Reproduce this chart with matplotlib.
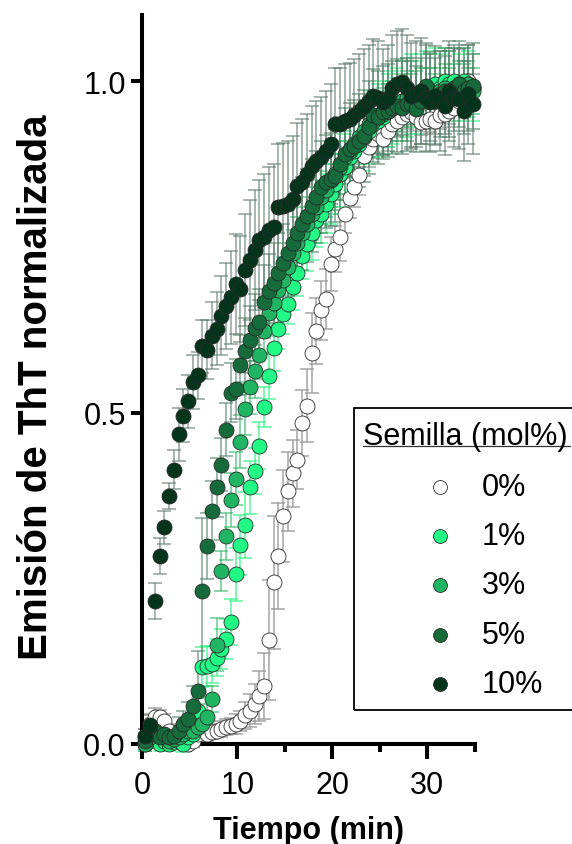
import matplotlib
matplotlib.use("Agg")
import matplotlib.pyplot as plt
from matplotlib.lines import Line2D
from matplotlib.patches import Rectangle
from matplotlib.ticker import FixedLocator

plt.rcParams['font.family'] = ['Liberation Sans', 'DejaVu Sans']

# ---------------- data ----------------
time_min = [0.33, 0.83, 1.33, 1.83, 2.33, 2.83, 3.33, 3.83, 4.33, 4.83,
            5.33, 5.83, 6.33, 6.83, 7.33, 7.83, 8.33, 8.83, 9.33, 9.83,
            10.33, 10.83, 11.33, 11.83, 12.33, 12.83, 13.33, 13.83, 14.33, 14.83,
            15.33, 15.83, 16.33, 16.83, 17.33, 17.83, 18.33, 18.83, 19.33, 19.83,
            20.33, 20.83, 21.33, 21.83, 22.33, 22.83, 23.33, 23.83, 24.33, 24.83,
            25.33, 25.83, 26.33, 26.83, 27.33, 27.83, 28.33, 28.83, 29.33, 29.83,
            30.33, 30.83, 31.33, 31.83, 32.33, 32.83, 33.33, 33.83, 34.33, 34.83]

seed_labels = ['0%', '1%', '3%', '5%', '10%']

tht_0 = [0.01, 0.03, 0.04, 0.04, 0.035, 0.02, 0.01, 0.005, 0.003, 0.0,
         0.005, 0.015, 0.026, 0.015, 0.018, 0.02, 0.023, 0.025, 0.027, 0.03,
         0.035, 0.043, 0.05, 0.06, 0.072, 0.088, 0.157, 0.244, 0.284, 0.344,
         0.381, 0.408, 0.429, 0.484, 0.51, 0.59, 0.623, 0.654, 0.671, 0.724,
         0.747, 0.764, 0.80, 0.824, 0.84, 0.858, 0.887, 0.90, 0.912, 0.92,
         0.913, 0.925, 0.935, 0.94, 0.945, 0.95, 0.953, 0.945, 0.938, 0.94,
         0.943, 0.94, 0.948, 0.95, 0.955, 0.96, 0.97, 0.985, 1.0, 0.99]
tht_1 = [0.0, 0.005, 0.01, 0.0, 0.005, 0.0, 0.003, 0.005, 0.0, 0.01,
         0.015, 0.05, 0.116, 0.118, 0.12, 0.13, 0.143, 0.158, 0.184, 0.256,
         0.30, 0.33, 0.387, 0.412, 0.45, 0.508, 0.555, 0.598, 0.626, 0.649,
         0.664, 0.69, 0.71, 0.736, 0.754, 0.77, 0.79, 0.80, 0.815, 0.83,
         0.845, 0.86, 0.87, 0.885, 0.895, 0.905, 0.915, 0.925, 0.935, 0.94,
         0.945, 0.955, 0.96, 0.965, 0.97, 0.975, 0.98, 0.975, 0.985, 0.99,
         0.985, 0.995, 0.99, 1.0, 0.995, 1.0, 0.99, 1.0, 0.995, 0.99]
tht_3 = [0.0, 0.01, 0.02, 0.015, 0.01, 0.005, 0.008, 0.01, 0.015, 0.02,
         0.02, 0.025, 0.03, 0.04, 0.068, 0.15, 0.261, 0.313, 0.368, 0.40,
         0.456, 0.506, 0.538, 0.562, 0.586, 0.623, 0.65, 0.665, 0.685, 0.70,
         0.72, 0.74, 0.755, 0.77, 0.785, 0.80, 0.81, 0.825, 0.835, 0.85,
         0.86, 0.87, 0.885, 0.895, 0.905, 0.915, 0.925, 0.935, 0.94, 0.945,
         0.95, 0.955, 0.96, 0.965, 0.97, 0.975, 0.97, 0.975, 0.98, 0.98,
         0.985, 0.975, 0.985, 0.99, 0.985, 0.99, 0.995, 0.99, 0.995, 0.985]
tht_5 = [0.005, 0.015, 0.02, 0.01, 0.015, 0.01, 0.012, 0.02, 0.03, 0.038,
         0.058, 0.08, 0.231, 0.299, 0.352, 0.387, 0.421, 0.474, 0.53, 0.535,
         0.572, 0.593, 0.61, 0.628, 0.636, 0.667, 0.684, 0.695, 0.71, 0.725,
         0.74, 0.755, 0.77, 0.785, 0.797, 0.812, 0.825, 0.84, 0.848, 0.852,
         0.857, 0.875, 0.89, 0.897, 0.902, 0.91, 0.917, 0.93, 0.948, 0.945,
         0.953, 0.955, 0.96, 0.963, 0.96, 0.965, 0.965, 0.958, 0.97, 0.993,
         0.975, 0.97, 0.98, 0.985, 0.98, 0.99, 0.995, 0.985, 0.99, 0.993]
tht_10 = [0.012, 0.028, 0.216, 0.283, 0.327, 0.374, 0.414, 0.467, 0.495, 0.517,
          0.546, 0.556, 0.60, 0.595, 0.616, 0.626, 0.646, 0.661, 0.674, 0.694,
          0.686, 0.715, 0.73, 0.745, 0.76, 0.765, 0.775, 0.78, 0.81, 0.812,
          0.815, 0.822, 0.842, 0.848, 0.86, 0.872, 0.88, 0.886, 0.895, 0.905,
          0.935, 0.935, 0.94, 0.942, 0.948, 0.955, 0.963, 0.97, 0.978, 0.975,
          0.968, 0.975, 0.99, 0.995, 0.998, 0.99, 0.978, 0.98, 0.985, 0.975,
          0.968, 0.978, 0.97, 0.963, 0.985, 0.975, 0.973, 0.955, 0.98, 0.965]

sd_0 = [0.012, 0.015, 0.015, 0.012, 0.01, 0.01, 0.008, 0.008, 0.008, 0.008,
        0.01, 0.012, 0.012, 0.01, 0.01, 0.01, 0.012, 0.012, 0.012, 0.015,
        0.015, 0.02, 0.025, 0.03, 0.038, 0.05, 0.09, 0.1, 0.08, 0.07,
        0.06, 0.05, 0.045, 0.05, 0.055, 0.06, 0.05, 0.045, 0.045, 0.04,
        0.035, 0.035, 0.03, 0.03, 0.03, 0.03, 0.03, 0.03, 0.028, 0.028,
        0.025, 0.025, 0.025, 0.022, 0.022, 0.022, 0.02, 0.02, 0.02, 0.02,
        0.02, 0.02, 0.02, 0.02, 0.02, 0.02, 0.02, 0.02, 0.02, 0.02]
sd_1 = [0.01, 0.01, 0.01, 0.01, 0.01, 0.01, 0.01, 0.01, 0.012, 0.012,
        0.015, 0.02, 0.03, 0.03, 0.028, 0.028, 0.03, 0.03, 0.035, 0.04,
        0.045, 0.05, 0.04, 0.035, 0.035, 0.03, 0.035, 0.035, 0.03, 0.03,
        0.03, 0.035, 0.035, 0.035, 0.04, 0.04, 0.04, 0.045, 0.045, 0.045,
        0.045, 0.05, 0.05, 0.05, 0.05, 0.05, 0.05, 0.05, 0.05, 0.055,
        0.055, 0.055, 0.055, 0.055, 0.06, 0.06, 0.06, 0.055, 0.055, 0.055,
        0.055, 0.055, 0.05, 0.05, 0.05, 0.05, 0.05, 0.05, 0.05, 0.05]
sd_3 = [0.01, 0.01, 0.012, 0.012, 0.01, 0.01, 0.01, 0.01, 0.012, 0.012,
        0.015, 0.015, 0.02, 0.02, 0.02, 0.04, 0.03, 0.035, 0.04, 0.04,
        0.04, 0.04, 0.04, 0.04, 0.035, 0.035, 0.035, 0.035, 0.035, 0.035,
        0.035, 0.035, 0.04, 0.04, 0.04, 0.04, 0.04, 0.04, 0.04, 0.04,
        0.04, 0.04, 0.04, 0.04, 0.04, 0.04, 0.04, 0.04, 0.04, 0.04,
        0.04, 0.04, 0.04, 0.04, 0.04, 0.04, 0.04, 0.04, 0.04, 0.04,
        0.035, 0.035, 0.035, 0.035, 0.035, 0.035, 0.035, 0.035, 0.035, 0.035]
sd_5 = [0.012, 0.012, 0.015, 0.015, 0.015, 0.015, 0.015, 0.02, 0.02, 0.025,
        0.03, 0.06, 0.11, 0.05, 0.045, 0.045, 0.04, 0.04, 0.045, 0.045,
        0.045, 0.05, 0.05, 0.05, 0.05, 0.055, 0.055, 0.06, 0.06, 0.06,
        0.065, 0.065, 0.065, 0.07, 0.07, 0.07, 0.07, 0.07, 0.07, 0.07,
        0.07, 0.07, 0.07, 0.07, 0.07, 0.07, 0.07, 0.07, 0.07, 0.07,
        0.07, 0.07, 0.07, 0.07, 0.07, 0.07, 0.065, 0.065, 0.065, 0.065,
        0.065, 0.065, 0.065, 0.065, 0.065, 0.065, 0.065, 0.065, 0.065, 0.065]
sd_10 = [0.01, 0.015, 0.027, 0.027, 0.025, 0.02, 0.03, 0.04, 0.04, 0.04,
         0.04, 0.035, 0.04, 0.045, 0.05, 0.055, 0.06, 0.065, 0.07, 0.075,
         0.08, 0.085, 0.09, 0.09, 0.09, 0.095, 0.095, 0.095, 0.095, 0.095,
         0.095, 0.095, 0.095, 0.095, 0.09, 0.09, 0.09, 0.09, 0.09, 0.09,
         0.085, 0.085, 0.085, 0.085, 0.085, 0.085, 0.085, 0.085, 0.085, 0.085,
         0.08, 0.08, 0.08, 0.08, 0.08, 0.08, 0.08, 0.08, 0.08, 0.08,
         0.075, 0.075, 0.075, 0.075, 0.075, 0.075, 0.075, 0.075, 0.075, 0.075]

series = [tht_0, tht_1, tht_3, tht_5, tht_10]
errors = [sd_0, sd_1, sd_3, sd_5, sd_10]

# ---------------- styles ----------------
face_colors = ['#FFFFFF', '#22FA86', '#20B562', '#156B39', '#05341C']
err_colors = ['#9A9A9A', '#3CF58C', '#34B86A', '#4F8066', '#5E7A6B']
err_alpha = [0.9, 0.85, 0.75, 0.7, 0.7]

W, H = 572, 845
fig = plt.figure(figsize=(W / 100, H / 100), dpi=100)
ax = fig.add_axes([142.3 / W, 1 - 745 / H, 332.5 / W, 729.3 / H])

for i, (vals, sd) in enumerate(zip(series, errors)):
    ax.errorbar(time_min, vals, yerr=sd, fmt='none', ecolor=err_colors[i],
                alpha=err_alpha[i], elinewidth=1.1, capsize=5, capthick=1.1,
                zorder=1 + i * 0.1, clip_on=False)
for i, vals in enumerate(series):
    ax.plot(time_min, vals, ls='none', marker='o', ms=10.8,
            mfc=face_colors[i], mec='#2a2a2a', mew=0.6,
            zorder=3 + i, clip_on=False)

ax.set_xlim(0, 35)
ax.set_ylim(0, 1.1)
for s in ['top', 'right']:
    ax.spines[s].set_visible(False)
for s in ['left', 'bottom']:
    ax.spines[s].set_linewidth(2.9)
    ax.spines[s].set_zorder(2)
ax.spines['left'].set_bounds(0, 1.1)

ax.xaxis.set_major_locator(FixedLocator([0, 10, 20, 30]))
ax.xaxis.set_minor_locator(FixedLocator([5, 15, 25, 35]))
ax.yaxis.set_major_locator(FixedLocator([0.0, 0.5, 1.0]))
ax.set_yticklabels(['0.0', '0.5', '1.0'])
ax.tick_params(axis='x', which='major', length=11, width=2.9, direction='out',
               labelsize=22, pad=8)
ax.tick_params(axis='x', which='minor', length=5.5, width=2.9, direction='out')
ax.tick_params(axis='y', which='major', length=8, width=2.9, direction='out',
               labelsize=22, pad=4)

ax.set_xlabel('Tiempo (min)', fontsize=22, fontweight='bold')
ax.set_ylabel('Emisión de ThT normalizada', fontsize=29, fontweight='bold')
ax.xaxis.set_label_coords(0.5, -0.097)
ax.yaxis.set_label_coords(-0.262, 0.49)

# ---------------- legend (Prism style box) ----------------
def fx(x):
    return x / W

def fy(y):
    return 1 - y / H

fig.add_artist(Rectangle((fx(354), fy(711)), fx(240), (711 - 409) / H,
                         transform=fig.transFigure, fill=False,
                         ec='black', lw=1.3, clip_on=False, zorder=10))
fig.text(fx(363), fy(437), 'Semilla (mol%)', fontsize=22, ha='left',
         va='center', zorder=11)
fig.add_artist(Line2D([fx(363), fx(570)], [fy(447), fy(447)],
                      transform=fig.transFigure, color='#333333', lw=0.9))
entry_y = [488, 537, 586, 636, 685]
for i, lab in enumerate(seed_labels):
    fig.add_artist(Line2D([fx(440)], [fy(entry_y[i])], transform=fig.transFigure,
                          ls='none', marker='o', ms=10, mfc=face_colors[i],
                          mec='#2a2a2a', mew=0.6))
    fig.text(fx(482), fy(entry_y[i]), lab, fontsize=22, ha='left', va='center')

fig.savefig('out.png', dpi=100)
